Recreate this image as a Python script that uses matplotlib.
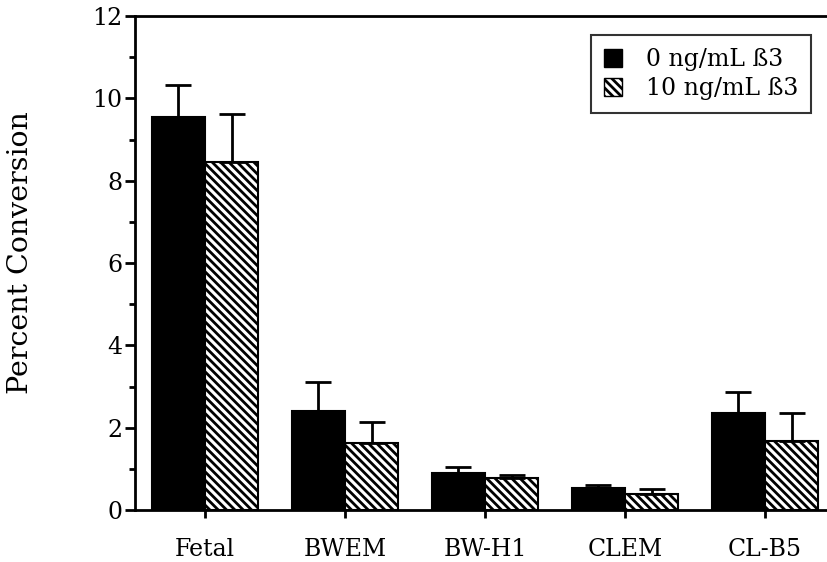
import matplotlib
matplotlib.use("Agg")
import matplotlib.pyplot as plt
import numpy as np
from matplotlib.patches import Patch

plt.rcParams['font.family'] = ['DejaVu Serif']
plt.rcParams['hatch.linewidth'] = 2.0

# cell lines and percent conversion (mean, upper error)
groups = ["Fetal", "BWEM", "BW-H1", "CLEM", "CL-B5"]
conv_0 = [9.55, 2.40, 0.90, 0.53, 2.35]
err_0 = [0.77, 0.72, 0.14, 0.08, 0.52]
conv_10 = [8.45, 1.63, 0.78, 0.39, 1.68]
err_10 = [1.17, 0.51, 0.07, 0.12, 0.67]
legend_labels = ["0 ng/mL ß3", "10 ng/mL ß3"]

x = np.arange(len(groups))
w = 0.38

fig = plt.figure(figsize=(8.28, 5.62), dpi=100)
ax = fig.add_axes([0.163, 0.0925, 0.837, 0.879])

ax.bar(x - w/2, conv_0, w, color='black', edgecolor='black', linewidth=1.5)
ax.bar(x + w/2, conv_10, w, color='white', edgecolor='black', linewidth=1.5,
       hatch='\\\\\\\\')
ax.errorbar(x - w/2, conv_0, yerr=[np.zeros(len(x)), err_0], fmt='none',
            ecolor='black', elinewidth=2, capsize=9.5, capthick=2)
ax.errorbar(x + w/2, conv_10, yerr=[np.zeros(len(x)), err_10], fmt='none',
            ecolor='black', elinewidth=2, capsize=9.5, capthick=2)

ax.set_xlim(-0.5, 4.45)
ax.set_ylim(0, 12)
ax.set_yticks(range(0, 13, 2))
ax.set_yticks(range(1, 12, 2), minor=True)
ax.set_xticks(x)
ax.set_xticklabels(groups)

for side in ['left', 'bottom', 'top']:
    ax.spines[side].set_linewidth(2)
ax.spines['right'].set_visible(False)

ax.tick_params(axis='y', which='major', length=7, width=2, labelsize=17, pad=2)
ax.tick_params(axis='y', which='minor', length=4, width=2)
ax.tick_params(axis='x', length=6, width=2, labelsize=17, pad=14)

ax.set_ylabel("Percent Conversion", fontsize=20.5)
ax.yaxis.set_label_coords(-0.145, 0.522)

handles = [Patch(facecolor='black', edgecolor='black'),
           Patch(facecolor='white', edgecolor='black', hatch='\\\\\\\\')]
leg = ax.legend(handles, legend_labels, loc='upper right',
                bbox_to_anchor=(0.976, 0.9615), fontsize=17, frameon=True,
                fancybox=False, edgecolor='black', handlelength=0.8,
                handleheight=0.8, handletextpad=1.0, borderpad=0.55,
                labelspacing=0.25, borderaxespad=0)
leg.get_frame().set_linewidth(1.5)

plt.savefig('out.png', dpi=100)
